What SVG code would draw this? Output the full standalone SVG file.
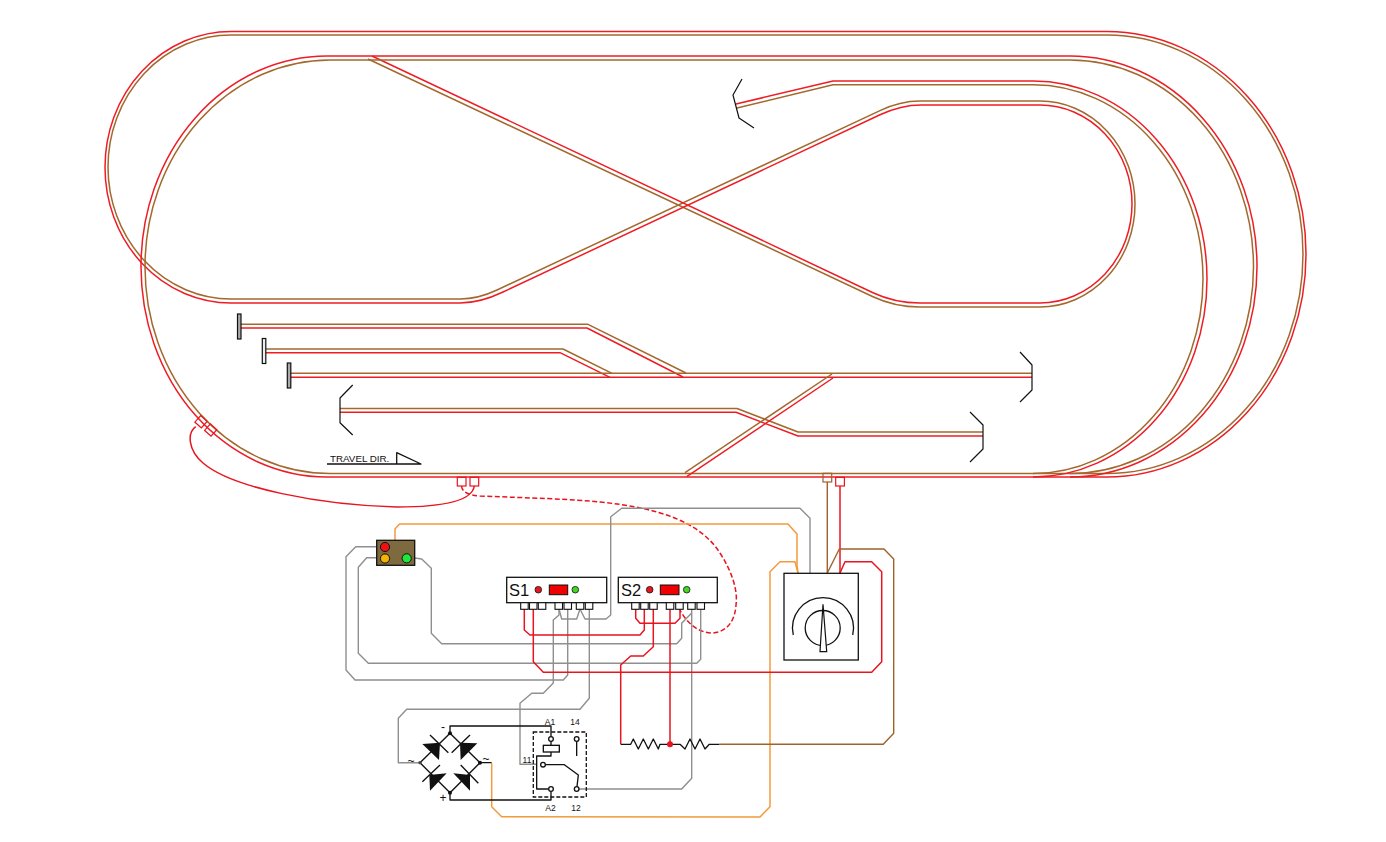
<svg xmlns="http://www.w3.org/2000/svg" width="1386" height="842" viewBox="0 0 1386 842">
<style>
text{font-family:"Liberation Sans",Arial,sans-serif;fill:#111}
path,polyline,line{fill:none;stroke-linejoin:round}
.r{stroke:#ee1c25;stroke-width:1.5}
.b{stroke:#a3682c;stroke-width:1.5}
.wr{stroke:#e8141f;stroke-width:1.5}
.wb{stroke:#a0622a;stroke-width:1.4}
.wg{stroke:#8f8f8f;stroke-width:1.4}
.wo{stroke:#f39a3e;stroke-width:1.5}
.k{stroke:#111;stroke-width:1.3}
.kk{stroke:#111;stroke-width:4}
.box{fill:#fff;stroke:#111;stroke-width:1.3}
.term{fill:#fff;stroke:#111;stroke-width:1.1}
.fr{fill:none;stroke:#e8141f;stroke-width:1.2}
.fb{fill:none;stroke:#a0622a;stroke-width:1.2}
.stop{stroke:#111;stroke-width:1.2}
.lbl{font-size:8.5px;text-anchor:middle}
.big{font-size:16.500px}
.sym{font-size:12px;text-anchor:middle}
</style>
<rect width="1386" height="842" fill="#fff"/>
<g id="tracks">
<path class="b" d="M1107,35H231A123,132 0 0 0 231,299H460Q478,299 497,290L880,110.6Q900,101 920,101H1040A95,103 0 0 1 1040,307H920Q895,307 873,296.7L368,59"/>
<path class="r" d="M1107,31.5H231A126,135.75 0 0 0 231,303H460Q480,303 503,292L880,114.8Q901,105 921,105H1040A92,99 0 0 1 1040,303H920Q895,303 873,292.7L372,56"/>
<path class="b" d="M1107,35A196,219.25 0 0 1 1107,473.5"/>
<path class="r" d="M1107,31.5A199,222.75 0 0 1 1107,477"/>
<path class="b" d="M1070,60H330A185,206.75 0 0 0 330,473.5H1107"/>
<path class="r" d="M1070,56H327A186,210.5 0 0 0 327,477H1107"/>
<path class="b" d="M1070,60A183.500,206.75 0 0 1 1070,473.5"/>
<path class="r" d="M1070,56A187,210.5 0 0 1 1070,477"/>
<path class="b" d="M737,108L833,84.700H1033A170,194.4 0 0 1 1033,473.5"/>
<path class="r" d="M736,104L833,81H1033A174,198 0 0 1 1033,477"/>
<path class="b" d="M241,324.300H588L686,373"/>
<path class="r" d="M241,328H587L683,377"/>
<path class="b" d="M265.700,349H563L612,373.300"/>
<path class="r" d="M265.700,352.700H560L610,377.300"/>
<path class="b" d="M290.700,373.300H1032"/>
<path class="r" d="M290.700,377.300H1032"/>
<path class="b" d="M340,408.500H737L798,432H983"/>
<path class="r" d="M340,412.300H736L798,436H983"/>
<path class="b" d="M685,472.700L832,374"/>
<path class="r" d="M686.700,476.700L833,378"/>
</g>
<g id="track-ends">
<rect x="237.500" y="314" width="3.500" height="25" fill="#aaa" class="stop"/>
<rect x="262.300" y="338.500" width="3.500" height="25" fill="#eee" class="stop"/>
<rect x="287.300" y="363" width="3.500" height="25" fill="#aaa" class="stop"/>
<polyline class="stop" points="742,79 733,95 739,118 754,128"/>
<polyline class="stop" points="352.700,385 340,398 340,422.700 352.700,435"/>
<polyline class="stop" points="1020,352 1032,365 1032,390 1020,402"/>
<polyline class="stop" points="970,412 983,425 983,449 970,462"/>
</g>
<g id="travel-direction">
<text x="330" y="462" font-size="9.800">TRAVEL DIR.</text>
<polyline class="k" points="327,464 421,464 396.700,452.700 396.700,464"/>
</g>
<g id="connectors">
<path class="wr" d="M195.700,426.700C187,433 188,450 203,463C232,488 320,505 397,507C440,507 472,502 474.300,486"/>
<path class="wr" stroke-dasharray="5 2.500" d="M461.500,486C462,492 468,495 480,496C530,498 570,499 600,502C660,508 700,522 720,553C732,572 738,590 736,605C735,620 728,632 712,633C698,633 686,622 680,610"/>
<polyline class="wo" points="395,540 395,529 399.500,524 788,524 797,534 797,565 798,573"/>
<polyline class="wo" points="798,573 795,561.700 780,561.700 770,571.700 770,806.700 760,817 501.700,816.700 491.700,806.700 491.700,763.300"/>
<polyline class="wg" points="580,609 585,619 606,619 610.700,615 610.700,516.700 621.700,508.300 800,508.300 810,518.300 810,573"/>
<polyline class="wg" points="559,609 561.700,619 576.700,619 580,609"/>
<polyline class="wg" points="559,609 559,615 553.300,620 553.300,683 543.300,693.300 531.700,693.300 520,703.300 520,764.300 536.700,764.300"/>
<polyline class="wg" points="567.700,609 567.700,675 563.300,680 355,680 346,670 346,556.700 355.700,546.700 376.700,546.700"/>
<polyline class="wg" points="589.300,609 589.300,698.300 580,709.300 406.700,709.300 398.300,718.300 398.300,762.700 420,762.700"/>
<polyline class="wg" points="376.700,557.700 366.700,557.700 358.300,567.300 358.300,653.300 368.300,663.300 696.700,663.300 700.700,659.300 700.700,609"/>
<polyline class="wg" points="414.700,558 421.700,559 431.300,568.300 431.300,633.300 441.700,643.700 676.700,643.700 681.700,638.300 681.700,623.300 691.700,613"/>
<polyline class="wg" points="691.700,609 691.700,778.300 681.700,789 579,789"/>
<polyline class="wr" points="524.300,609 524.300,630 530,635 640,635 644.300,630 644.300,609"/>
<polyline class="wr" points="533.300,609 533.300,661.700 543.300,672.300 871.700,672.300 881.700,661.700 881.700,571.700 871.700,561.700 845,561.700 840,573"/>
<polyline class="wr" points="840,486 840,573"/>
<polyline class="wr" points="635.700,609 635.700,618.300 640,623.300 675,623.300 680,618.300 680,609"/>
<polyline class="wr" points="653.300,609 653.300,646.700 643.300,656 630.700,656 620.700,665 620.700,744.300"/>
<polyline class="wr" points="670,609 670,744.300"/>
<polyline class="wb" points="827.300,482 827.300,573"/>
<polyline class="wb" points="719.300,744.300 883.300,744.300 893.700,733.300 893.700,559 884,549 839.300,549 827.300,573"/>
</g>
<g id="feeders">
<rect class="fr" x="457.300" y="477.300" width="8.700" height="8.700"/>
<rect class="fr" x="470" y="477.300" width="8.700" height="8.700"/>
<rect class="fb" x="823" y="473.300" width="8.700" height="8.700"/>
<rect class="fr" x="835.700" y="477.300" width="8.700" height="8.700"/>
<rect class="fr" x="196.700" y="417.400" width="8.700" height="8.700" transform="rotate(42 201 421.700)"/>
<rect class="fr" x="206.400" y="425.700" width="8.700" height="8.700" transform="rotate(42 210.700 430)"/>
</g>
<g id="signal">
<rect x="376.700" y="540.300" width="38" height="25" fill="#7d6b3f" stroke="#111" stroke-width="1.300"/>
<circle cx="385" cy="547" r="4.600" fill="#ee1111" stroke="#111"/>
<circle cx="385" cy="558.500" r="4.600" fill="#f5b400" stroke="#111"/>
<circle cx="406.700" cy="558.300" r="4.600" fill="#1ee83c" stroke="#111"/>
</g>
<g id="s1">
<rect class="box" x="506.700" y="577.300" width="100" height="25.400"/>
<text class="big" x="509" y="596">S1</text>
<circle cx="538.300" cy="589.700" r="3.300" fill="#e8141f" stroke="#111" stroke-width=".8"/>
<rect x="549.300" y="585" width="18.400" height="9.700" fill="#f00000" stroke="#111"/>
<circle cx="575.300" cy="589.700" r="3.300" fill="#44d620" stroke="#111" stroke-width=".8"/>
<rect class="term" x="520.700" y="602.700" width="7.500" height="6.600"/>
<rect class="term" x="529.500" y="602.700" width="7.500" height="6.600"/>
<rect class="term" x="538.300" y="602.700" width="7.500" height="6.600"/>
<rect class="term" x="555" y="602.700" width="7.500" height="6.600"/>
<rect class="term" x="564" y="602.700" width="7.500" height="6.600"/>
<rect class="term" x="576.300" y="602.700" width="7.500" height="6.600"/>
<rect class="term" x="585.300" y="602.700" width="7.500" height="6.600"/>
</g>
<g id="s2">
<rect class="box" x="618.300" y="577.300" width="99" height="25.400"/>
<text class="big" x="621" y="596">S2</text>
<circle cx="649.700" cy="589.700" r="3.300" fill="#e8141f" stroke="#111" stroke-width=".8"/>
<rect x="660.300" y="585" width="18.700" height="9.700" fill="#f00000" stroke="#111"/>
<circle cx="686.700" cy="589.700" r="3.300" fill="#44d620" stroke="#111" stroke-width=".8"/>
<rect class="term" x="631.700" y="602.700" width="7.500" height="6.600"/>
<rect class="term" x="640.700" y="602.700" width="7.500" height="6.600"/>
<rect class="term" x="649.700" y="602.700" width="7.500" height="6.600"/>
<rect class="term" x="666.300" y="602.700" width="7.500" height="6.600"/>
<rect class="term" x="675.700" y="602.700" width="7.500" height="6.600"/>
<rect class="term" x="687.700" y="602.700" width="7.500" height="6.600"/>
<rect class="term" x="697" y="602.700" width="7.500" height="6.600"/>
</g>
<g id="rotary-switch">
<rect class="box" x="784" y="573.300" width="74.300" height="86.700"/>
<path class="k" d="M793.300,635A30.500,30.500 0 1 1 852.700,635"/>
<circle cx="822.700" cy="628" r="17.500" fill="none" stroke="#111" stroke-width="1.300"/>
<polygon points="823,604.300 826.700,651.700 820,651.700" fill="#fff" stroke="#111" stroke-width="1.200"/>
</g>
<g id="resistors">
<polyline class="k" points="620.700,744.300 630.700,744.300 633.300,739 638.300,749 643.300,739 648.300,749 653.300,739 658.300,749 660,744.300 670,744.300 680,744.300 685,749 690,739 695,749 700,739 705,749 709.300,744.300 719.300,744.300"/>
<circle cx="670" cy="744.300" r="3" fill="#e8141f"/>
</g>
<g id="bridge-rectifier">
<g transform="translate(390,680) scale(.33333)">
<path class="kk" d="M90,248L180,160L270,248L180,338Z"/>
<path class="kk" d="M120,165L175,218M185,218L240,165M97,305L150,255M212,255L265,310"/>
<polygon points="97,192 150,188 147,240" fill="#111"/>
<polygon points="262,190 210,188 212,240" fill="#111"/>
<polygon points="118,285 170,280 120,332" fill="#111"/>
<polygon points="240,285 190,280 240,332" fill="#111"/>
<circle cx="180" cy="160" r="6" fill="#111"/>
<circle cx="180" cy="338" r="6" fill="#111"/>
<circle cx="90" cy="248" r="5" fill="#444"/>
<circle cx="270" cy="248" r="6" fill="#111"/>
<path class="kk" d="M270,248H305M180,160V138H483V170M180,338V360H483V335"/>
</g>
<text class="sym" x="443" y="731">-</text>
<text class="sym" x="411" y="765">~</text>
<text class="sym" x="486" y="763">~</text>
<text class="sym" x="443" y="802">+</text>
</g>
<g id="relay">
<rect x="533.300" y="732" width="53" height="65" fill="none" stroke="#111" stroke-width="1.300" stroke-dasharray="4 2"/>
<g transform="translate(390,680) scale(.33333)">
<path class="kk" d="M483,184V196M483,216V228H440V327H476M560,184V228M466,254H523L565,285L561,320"/>
<rect x="460" y="196" width="48" height="20" fill="#fff" stroke="#111" stroke-width="4"/>
<circle cx="483" cy="177" r="7" fill="#fff" stroke="#111" stroke-width="4"/>
<circle cx="560" cy="177" r="7" fill="#fff" stroke="#111" stroke-width="4"/>
<circle cx="459" cy="254" r="7" fill="#fff" stroke="#111" stroke-width="4"/>
<circle cx="483" cy="327" r="7" fill="#fff" stroke="#111" stroke-width="4"/>
<circle cx="560" cy="327" r="7" fill="#fff" stroke="#111" stroke-width="4"/>
</g>
<text class="lbl" x="550" y="725">A1</text>
<text class="lbl" x="575" y="725">14</text>
<text class="lbl" x="527" y="763">11</text>
<text class="lbl" x="550.500" y="811">A2</text>
<text class="lbl" x="576" y="811">12</text>
</g>
</svg>
